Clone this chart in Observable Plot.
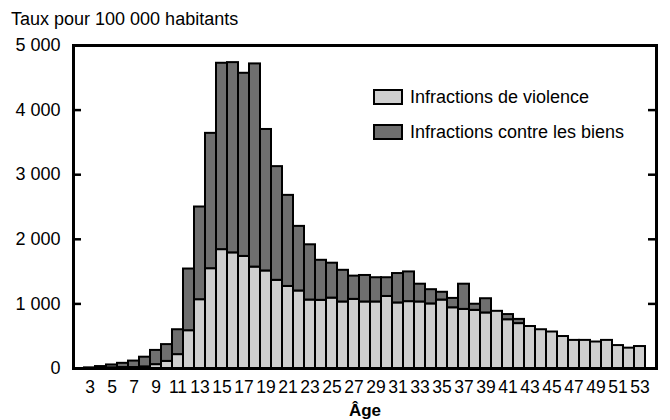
<!DOCTYPE html>
<html><head><meta charset="utf-8">
<script src="https://cdn.jsdelivr.net/npm/d3@7"></script>
<script src="https://cdn.jsdelivr.net/npm/@observablehq/plot@0.6"></script>
<style>
body{margin:0;background:#fff;font-family:"Liberation Sans",Arial,sans-serif;color:#000;}
#wrap{position:relative;width:670px;height:420px;}
#title{position:absolute;left:11px;top:9px;font-size:18px;line-height:20px;}
#chart{position:absolute;left:0;top:30px;}
.leg{position:absolute;left:373px;font-size:18px;line-height:18px;display:flex;align-items:center;}
.sw{box-sizing:border-box;width:30px;height:16px;border:2px solid #000;margin-right:7px;}
</style></head><body>
<div id="wrap">
<div id="title">Taux pour 100 000 habitants</div>
<div id="chart"></div>
</div>
<script>
const ages = d3.range(3, 54);
const violence = [0,5,10,15,15,25,60,110,215,585,1065,1545,1840,1790,1735,1570,1510,1365,1270,1200,1060,1055,1090,1030,1070,1030,1030,1115,1015,1035,1030,1000,1060,940,915,900,860,885,755,695,650,600,565,495,435,435,410,435,355,315,340];
const biens = [10,25,45,65,100,150,220,260,385,955,1435,2095,2885,2945,2835,3145,2190,1760,1410,1000,855,620,540,490,360,410,375,290,455,460,275,220,120,145,390,95,220,0,80,65,0,0,0,0,0,0,0,0,0,0,0];
const seriesNames = ["Infractions de violence", "Infractions contre les biens"];
const seriesColors = ["#cfcfcf", "#6f6f6f"];
const xTicks = ages.filter(a => a % 2 === 1);
const yTicks = [0, 1000, 2000, 3000, 4000, 5000];
const xLabel = "Âge";

const rows = [];
ages.forEach((a, i) => {
  rows.push({age: a, series: seriesNames[0], value: violence[i]});
  rows.push({age: a, series: seriesNames[1], value: biens[i]});
});

const W = 670, ML = 73, MR = 14;
const innerW = W - ML - MR;
const fmt = d => d3.format(",")(d).replace(/,/g, " ");

const chart = Plot.plot({
  width: W,
  height: 390,
  marginLeft: ML,
  marginRight: MR,
  marginTop: 15,
  marginBottom: 52,
  style: {fontSize: "18px", fontFamily: "Liberation Sans, Arial, sans-serif", color: "#000", background: "#fff"},
  x: {type: "band", domain: ages, padding: 0, label: null},
  y: {domain: [0, 5000], label: null},
  color: {domain: seriesNames, range: seriesColors},
  marks: [
    Plot.barY(rows, {x: "age", y: "value", fill: "series", stroke: "#000", strokeWidth: 2, inset: 0, order: seriesNames}),
    Plot.gridY(yTicks, {stroke: "#000", strokeOpacity: 1, strokeWidth: 2.5, insetRight: innerW - 8}),
    Plot.gridY(yTicks, {stroke: "#000", strokeOpacity: 1, strokeWidth: 2.5, insetLeft: innerW - 8}),
    Plot.axisY({ticks: yTicks, tickSize: 0, tickPadding: 13, tickFormat: fmt, label: null, fontSize: 18}),
    Plot.axisX({ticks: xTicks, tickSize: 0, tickPadding: 12, label: null, fontSize: 17.5}),
    Plot.frame({stroke: "#000", strokeWidth: 3}),
    Plot.text([xLabel], {frameAnchor: "bottom", dy: 47, lineAnchor: "bottom", fontWeight: "bold", fontSize: 17})
  ]
});
document.getElementById("chart").appendChild(chart);

const wrap = document.getElementById("wrap");
[[88, 0], [123, 1]].forEach(([top, i]) => {
  const d = document.createElement("div");
  d.className = "leg";
  d.style.top = top + "px";
  const s = document.createElement("div");
  s.className = "sw";
  s.style.background = seriesColors[i];
  d.appendChild(s);
  d.appendChild(document.createTextNode(seriesNames[i]));
  wrap.appendChild(d);
});
</script>
</body></html>
